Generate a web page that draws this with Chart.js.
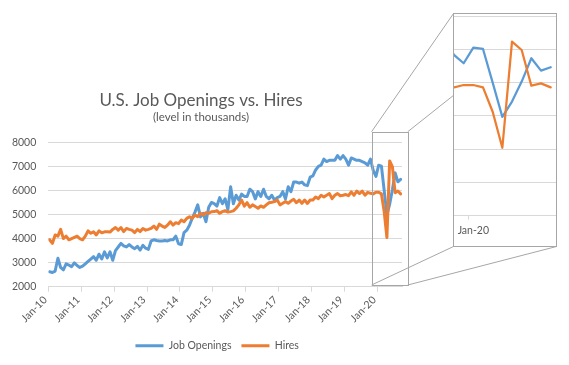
<!DOCTYPE html>
<html><head><meta charset="utf-8">
<script src="https://cdn.jsdelivr.net/npm/chart.js@4.4.0/dist/chart.umd.min.js"></script>
<style>
html,body{margin:0;padding:0;background:#fff;}
#wrap{position:relative;width:569px;height:365px;overflow:hidden;background:#fff;}
#main{position:absolute;left:0;top:0;}
#inset{position:absolute;left:453px;top:13px;width:104px;height:234px;box-sizing:border-box;border:1px solid #a6a6a6;background:#fff;}
#insetCanvas{position:absolute;left:0;top:0;}
</style></head><body>
<div id="wrap">
<canvas id="main" width="569" height="365"></canvas>
<div id="inset"><canvas id="insetCanvas" width="102" height="232"></canvas></div>
</div>
<script>
// ---- data (monthly, Jan-2010 .. Sep-2020, thousands) ----
const titleText = 'U.S. Job Openings vs. Hires';
const subtitleText = '(level in thousands)';
const seriesNames = ['Job Openings', 'Hires'];
const yearLabels = ['Jan-10','Jan-11','Jan-12','Jan-13','Jan-14','Jan-15','Jan-16','Jan-17','Jan-18','Jan-19','Jan-20'];
const jobOpenings = [
  2620,2590,2650,3180,2800,2700,2950,2900,2830,2990,2880,2800,
  2850,2950,3050,3150,3250,3100,3350,3150,3450,3200,3450,3100,
  3500,3650,3800,3700,3650,3750,3650,3580,3680,3520,3720,3600,
  3550,3900,3950,3920,3900,3900,3920,3900,3950,3950,4100,3780,
  3750,4250,4350,4550,4850,5100,5400,4900,5050,4700,5300,5500,
  5450,5350,5700,5450,5650,5200,6150,5450,5800,5600,5850,5750,
  5750,6050,5950,5650,5950,5750,6050,5750,5650,5800,5600,5700,
  5750,5950,5650,6150,5950,6350,6350,6300,6350,6230,6200,6550,
  6600,6850,7000,7050,7300,7200,7250,7250,7250,7450,7300,7450,
  7300,7050,7350,7300,7250,7250,7200,7150,7050,7300,6830,6580,
  7050,7010,6000,4970,5430,6030,6730,6360,6460
];
const hires = [
  3950,3800,4150,4100,4380,4000,4100,3950,4000,4050,4100,4000,
  3950,4100,4320,4220,4280,4150,4320,4240,4280,4280,4270,4380,
  4460,4350,4460,4290,4420,4380,4350,4250,4380,4290,4420,4350,
  4380,4420,4520,4380,4600,4520,4460,4560,4700,4560,4660,4620,
  4770,4700,4840,4910,4840,4980,4910,5050,4980,5075,5050,5116,
  5120,5160,5050,5120,5160,5100,5120,5150,5260,5400,5600,5350,
  5490,5300,5400,5330,5260,5355,5300,5400,5490,5510,5535,5600,
  5400,5465,5535,5465,5560,5630,5490,5600,5465,5600,5460,5600,
  5600,5730,5660,5800,5730,5800,5870,5660,5800,5870,5780,5800,
  5830,5780,5940,5800,5970,5870,5970,5800,5920,5880,5856,5926,
  5926,5856,5124,4042,7228,6978,5906,5976,5856
];
const yMin = 2000, yMax = 8000, yStep = 1000;

// ---- styling ----
const BLUE = '#5b9bd5', ORANGE = '#ed7d31', GRID = '#d9d9d9', TXT = '#595959', BOXC = '#a6a6a6';
const FONT = "Lato, 'Open Sans', sans-serif";
const toPoints = arr => arr.map((v, i) => ({ x: i + 0.5, y: v }));   // month centre
const makeDatasets = (w) => [
  { label: seriesNames[0], data: toPoints(jobOpenings), borderColor: BLUE, backgroundColor: BLUE,
    borderWidth: w, pointRadius: 0, tension: 0, borderJoinStyle: 'round', borderCapStyle: 'round', order: 1 },
  { label: seriesNames[1], data: toPoints(hires), borderColor: ORANGE, backgroundColor: ORANGE,
    borderWidth: w, pointRadius: 0, tension: 0, borderJoinStyle: 'round', borderCapStyle: 'round', order: 0 }
];

// zoom window annotation (in data units)
const zoomWin = { x0: 117.9, x1: 131.1, y0: 2070, y1: 8440 };
const legendShift = -8;

const zoomPlugin = {
  id: 'zoomWin',
  afterLayout(chart) {
    if (chart.legend) { chart.legend.left += legendShift; chart.legend.right += legendShift; }
  },
  afterDatasetsDraw(chart) {
    const {ctx, scales: {x, y}} = chart;
    const L = x.getPixelForValue(zoomWin.x0), R = x.getPixelForValue(zoomWin.x1);
    const T = y.getPixelForValue(zoomWin.y1), B = y.getPixelForValue(zoomWin.y0);
    const ib = document.getElementById('inset').getBoundingClientRect();
    const cb = chart.canvas.getBoundingClientRect();
    const il = ib.left - cb.left + 0.5, ir = ib.right - cb.left - 0.5;
    const it = ib.top - cb.top + 0.5, ibm = ib.bottom - cb.top - 0.5;
    ctx.save();
    ctx.strokeStyle = BOXC; ctx.lineWidth = 1;
    ctx.beginPath();
    ctx.moveTo(L, T); ctx.lineTo(il, it);
    ctx.moveTo(R, T); ctx.lineTo(ir, it);
    ctx.moveTo(L, B); ctx.lineTo(il, ibm);
    ctx.moveTo(R, B); ctx.lineTo(ir, ibm);
    ctx.stroke();
    ctx.strokeRect(Math.round(L) + 0.5, Math.round(T) + 0.5, Math.round(R - L), Math.round(B - T));
    ctx.restore();
  }
};

new Chart(document.getElementById('main'), {
  type: 'line',
  data: { datasets: makeDatasets(3) },
  plugins: [zoomPlugin],
  options: {
    responsive: false, animation: false, events: [],
    layout: { padding: { left: 0, right: 167, top: 0, bottom: 4 } },
    plugins: {
      title: { display: true, text: titleText, color: TXT, font: { family: FONT, size: 17, weight: 'normal' }, padding: { top: 90.3, bottom: 0 } },
      subtitle: { display: true, text: subtitleText, color: TXT, font: { family: FONT, size: 11.5 }, padding: { top: 0, bottom: 17.8 } },
      legend: {
        position: 'bottom', fullSize: false,
        labels: {
          color: TXT, font: { family: FONT, size: 10.5 }, boxWidth: 28, boxHeight: 3, padding: 10,
          generateLabels: (chart) => chart.data.datasets.map((ds, i) => ({
            text: ds.label, fillStyle: ds.borderColor, strokeStyle: ds.borderColor, lineWidth: 0,
            hidden: false, datasetIndex: i, fontColor: TXT }))
        }
      },
      tooltip: { enabled: false }
    },
    scales: {
      x: {
        type: 'linear', min: 0, max: 129,
        afterFit: s => { s.height = 43.8; },
        afterBuildTicks: s => { s.ticks = yearLabels.map((_, k) => ({ value: 12 * k })); },
        ticks: { autoSkip: false, minRotation: 45, maxRotation: 45, padding: 2, labelOffset: -3,
                 color: TXT, font: { family: FONT, size: 10.5 },
                 callback: v => yearLabels[Math.round(v / 12)] },
        grid: { drawOnChartArea: false, tickLength: 5, color: GRID },
        border: { display: true, color: GRID }
      },
      y: {
        min: yMin, max: yMax,
        afterFit: s => { s.width = 48.3; },
        ticks: { stepSize: yStep, padding: 12, color: TXT, font: { family: FONT, size: 10.5 }, callback: v => String(v) },
        grid: { color: GRID, drawTicks: false },
        border: { display: false }
      }
    }
  }
});

// ---- inset (zoomed view of the last months) ----
const insetTick = 12 * (yearLabels.length - 1);   // Jan-20 boundary
new Chart(document.getElementById('insetCanvas'), {
  type: 'line',
  data: { datasets: makeDatasets(2.25) },
  options: {
    responsive: false, animation: false, events: [],
    layout: { padding: { top: 2, left: 0, right: 0, bottom: 0 } },
    plugins: { legend: { display: false }, tooltip: { enabled: false } },
    scales: {
      x: {
        type: 'linear', min: 118.5, max: 129.05,
        afterFit: s => { s.height = 30.3; },
        afterBuildTicks: s => { s.ticks = [{ value: insetTick }, { value: insetTick + 0.5 }]; },
        ticks: { autoSkip: false, minRotation: 0, maxRotation: 0, padding: 5, color: TXT, font: { family: FONT, size: 10.5 },
                 callback: v => (v === insetTick + 0.5 ? yearLabels[yearLabels.length - 1] : '') },
        grid: { drawOnChartArea: false, tickLength: 4,
                color: c => (c.tick && c.tick.value === insetTick ? GRID : 'rgba(0,0,0,0)') },
        border: { display: false }
      },
      y: {
        min: yMin, max: yMax,
        afterFit: s => { s.width = 0; },
        ticks: { display: false, stepSize: yStep },
        grid: { color: GRID, drawTicks: false },
        border: { display: false }
      }
    }
  }
});
</script>
</body></html>
